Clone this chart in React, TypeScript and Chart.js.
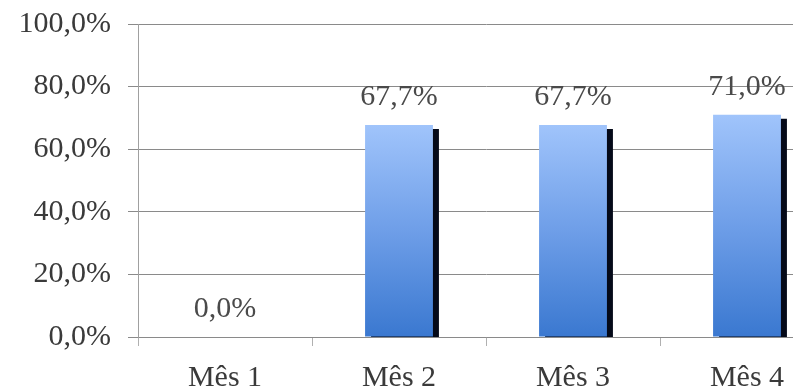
import React, { useEffect, useRef } from "react";
import { Chart, registerables } from "chart.js";

Chart.register(...registerables);

const categories = ["Mês 1", "Mês 2", "Mês 3", "Mês 4"];
const percentValues = [0.0, 67.7, 67.7, 71.0];
const yTicks = [0, 20, 40, 60, 80, 100];

const fmt = (v: number) => v.toFixed(1).replace(".", ",") + "%";

const FONT = "'Liberation Serif', 'Times New Roman', serif";

export default function App() {
  const ref = useRef<HTMLCanvasElement | null>(null);

  useEffect(() => {
    if (!ref.current) return;

    const shadowPlugin = {
      id: "barShadow",
      beforeDatasetDraw(chart: any) {
        const ctx = chart.ctx;
        ctx.save();
        ctx.shadowColor = "rgba(5,10,25,1)";
        ctx.shadowOffsetX = 6;
        ctx.shadowOffsetY = 4;
        ctx.shadowBlur = 0;
      },
      afterDatasetDraw(chart: any) {
        chart.ctx.restore();
      },
    };

    const labelPlugin = {
      id: "valueLabels",
      afterDatasetsDraw(chart: any) {
        const ctx = chart.ctx;
        const meta = chart.getDatasetMeta(0);
        ctx.save();
        ctx.font = `30px ${FONT}`;
        ctx.fillStyle = "#4a4a4a";
        ctx.textAlign = "center";
        ctx.textBaseline = "alphabetic";
        meta.data.forEach((bar: any, i: number) => {
          ctx.fillText(fmt(percentValues[i]), bar.x, bar.y - 20);
        });
        ctx.restore();
      },
    };

    const chart = new Chart(ref.current, {
      type: "bar",
      data: {
        labels: categories,
        datasets: [
          {
            data: percentValues,
            barPercentage: 0.39,
            categoryPercentage: 1,
            borderWidth: 0,
            backgroundColor: (c: any) => {
              const ch = c.chart;
              const area = ch.chartArea;
              if (!area || !ch.scales.y) return "#6b9be6";
              const top = ch.scales.y.getPixelForValue(percentValues[c.dataIndex] || 1);
              const g = ch.ctx.createLinearGradient(0, top, 0, area.bottom);
              g.addColorStop(0, "#a0c4fb");
              g.addColorStop(0.5, "#6e9ee8");
              g.addColorStop(1, "#3a78d0");
              return g;
            },
          },
        ],
      },
      options: {
        responsive: false,
        animation: false,
        layout: { padding: { top: 24, right: 26, bottom: 0, left: 0 } },
        plugins: { legend: { display: false }, tooltip: { enabled: false } },
        scales: {
          x: {
            afterFit: (s: any) => {
              s.height = 51;
              s.paddingLeft = 0;
              s.paddingRight = 0;
            },
            grid: {
              offset: true,
              drawOnChartArea: false,
              drawTicks: true,
              tickLength: 9,
              color: "#b0b0b0",
            },
            border: { color: "#8a8a8a", width: 1 },
            ticks: {
              font: { family: FONT, size: 30 },
              color: "#3a3a3a",
              padding: 14,
              maxRotation: 0,
            },
          },
          y: {
            min: 0,
            max: 100,
            afterFit: (s: any) => {
              s.width = 138;
              s.paddingTop = 0;
              s.paddingBottom = 0;
            },
            afterBuildTicks: (s: any) => {
              s.ticks = yTicks.map((v) => ({ value: v }));
            },
            grid: { color: "#8a8a8a", tickLength: 10, lineWidth: 1 },
            border: { color: "#a0a0a0", width: 1 },
            ticks: {
              font: { family: FONT, size: 30, lineHeight: 1 },
              color: "#3a3a3a",
              padding: 17,
              callback: (v: any) => fmt(Number(v)),
            },
          },
        },
      },
      plugins: [shadowPlugin, labelPlugin],
    });

    return () => chart.destroy();
  }, []);

  return (
    <div
      style={{
        position: "fixed",
        left: 0,
        top: 0,
        width: 793,
        height: 388,
        overflow: "hidden",
        background: "#ffffff",
      }}
    >
      <canvas ref={ref} width={860} height={388} style={{ display: "block" }} />
    </div>
  );
}
